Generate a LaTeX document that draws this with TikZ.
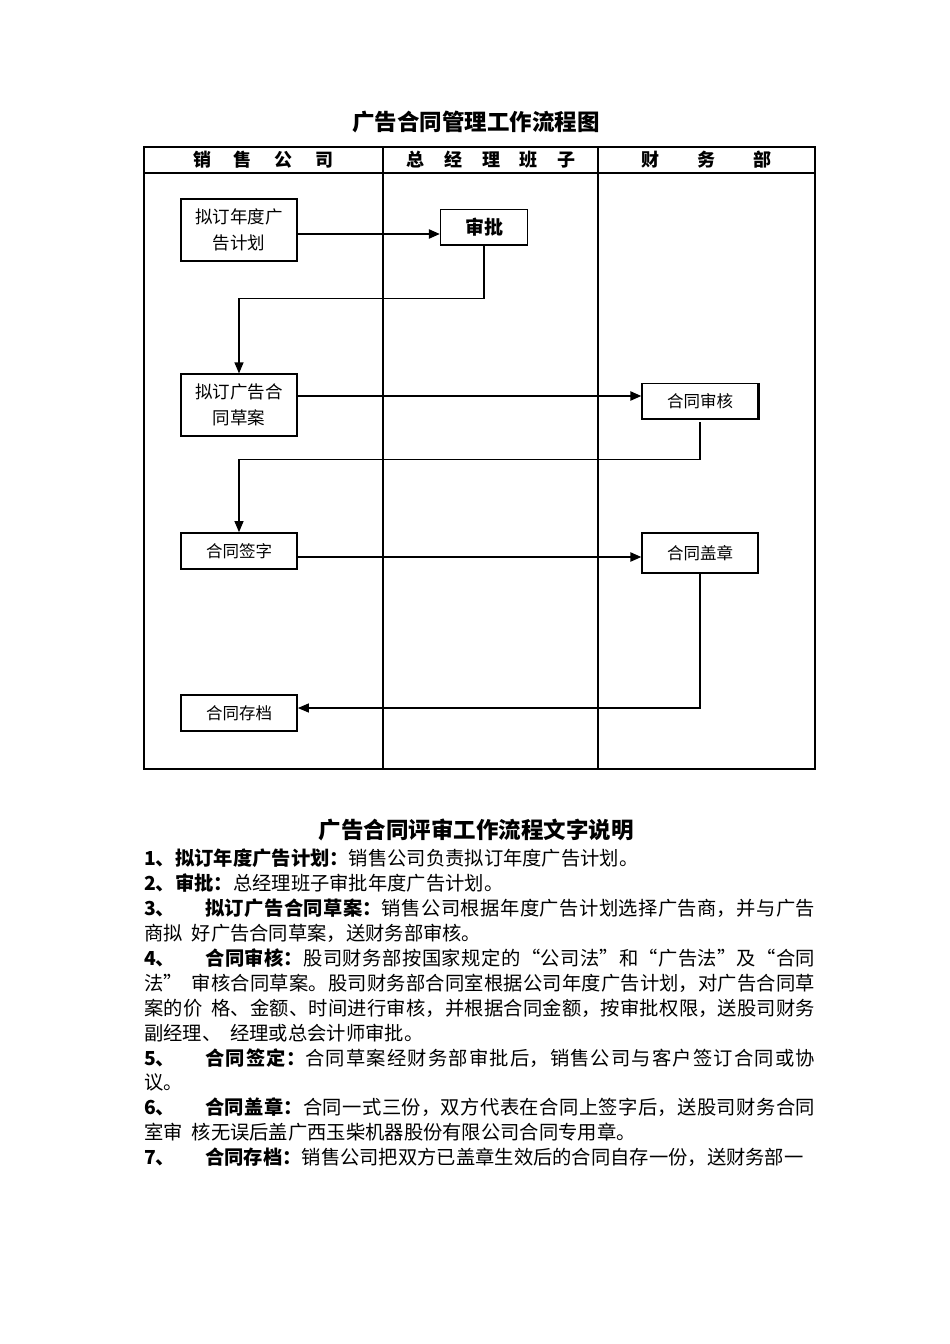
\documentclass[tikz,border=0pt]{standalone}
\usepackage{fontspec}
\newfontfamily\cjk{Noto Sans CJK SC}
\XeTeXlinebreaklocale "zh"
\XeTeXlinebreakskip=0pt plus 1pt
\usetikzlibrary{positioning,arrows.meta}
\tikzstyle{box} = [draw, line width=1.2pt, inner sep=0pt, align=center, font=\cjk\fontsize{17.5}{26}\selectfont]
\tikzstyle{flow} = [line width=2.2pt, -{Triangle[length=11pt,width=9pt]}]
\tikzstyle{back} = [line width=1.2pt]
\tikzstyle{head} = [font=\cjk\bfseries\fontsize{18}{20}\selectfont]
\newcommand{\sgap}{\hspace{9pt}}

\begin{document}
\begin{tikzpicture}[x=1pt, y=-1pt]
	\useasboundingbox[fill=white] (0,0) rectangle (950,1344);
	% title and lanes
	\node[font=\cjk\bfseries\fontsize{22.5}{27}\selectfont] (title) at (476,122) {广告合同管理工作流程图};
	\draw[line width=1.2pt] (144,147) rectangle (815,769);
	\draw[line width=1.2pt] (144,173) -- (815,173);
	\draw[line width=1.2pt] (383,147) -- (383,769);
	\draw[line width=1.2pt] (598,147) -- (598,769);
	\node[head] (sales) at (263.5,160) {销\hspace{23pt}售\hspace{23pt}公\hspace{23pt}司};
	\node[head] (board) at (491,160) {总\hspace{20pt}经\hspace{20pt}理\hspace{20pt}班\hspace{20pt}子};
	\node[head] (finance) at (706.5,160) {财\hspace{38.5pt}务\hspace{38.5pt}部};
	% steps
	\node[box, minimum width=116pt, minimum height=62pt] (plan) at (239,230) {拟订年度广\\告计划};
	\node[box, minimum width=87pt, minimum height=35pt, font=\cjk\bfseries\fontsize{19}{22}\selectfont] (approve) at (484,227) {审批};
	\node[box, minimum width=116pt, minimum height=62pt] (draft) at (239,405) {拟订广告合\\同草案};
	\node[box, minimum width=116pt, minimum height=35pt, font=\cjk\fontsize{16.5}{20}\selectfont] (review) at (700,401) {合同审核};
	\node[box, line width=1.7pt, minimum width=116pt, minimum height=36pt, font=\cjk\fontsize{16.5}{20}\selectfont] (sign) at (239,551) {合同签字};
	\node[box, minimum width=116pt, minimum height=40pt, font=\cjk\fontsize{16.5}{20}\selectfont] (seal) at (700,553) {合同盖章};
	\node[box, line width=1.7pt, minimum width=116pt, minimum height=36pt, font=\cjk\fontsize{16.5}{20}\selectfont] (archive) at (239,713) {合同存档};
	\draw[line width=2.4pt] (approve.south west) -- (approve.south east);
	\draw[line width=2.4pt] (review.north east) -- (review.south east) -- (review.south west);
	% connectors
	\draw[flow] ([yshift=-4pt]plan.east) -- ([yshift=-4pt]plan.east -| approve.west);
	\draw[back, -{Triangle[length=11pt,width=9pt]}] (approve.south) -- ++(0,53) -| (draft.north);
	\draw[flow] ([yshift=9pt]draft.east) -- ([yshift=9pt]draft.east -| review.west);
	\draw[back, -{Triangle[length=11pt,width=9pt]}] ([yshift=-3pt]review.south) -- ++(0,37) -| (sign.north);
	\draw[flow] ([yshift=-6pt]sign.east) -- ([yshift=-6pt]sign.east -| seal.west);
	\draw[back, -{Triangle[length=11pt,width=9pt]}] (seal.south) |- ([yshift=5pt]archive.east);
	% notes
	\node[font=\cjk\bfseries\fontsize{22.5}{27}\selectfont] (notes) at (476,830) {广告合同评审工作流程文字说明};
	\node[anchor=north west, inner sep=0pt, text width=671pt, align=justify, font=\cjk\fontsize{19.3}{24.9}\selectfont] (body) at (144,849) {%
		{\bfseries 1、拟订年度广告计划：}销售公司负责拟订年度广告计划。\\
		{\bfseries 2、审批：}总经理班子审批年度广告计划。\\
		{\bfseries 3、\hspace{30pt}拟订广告合同草案：}销售公司根据年度广告计划选择广告商，并与广告\linebreak
		商拟\sgap 好广告合同草案，送财务部审核。\\
		{\bfseries 4、\hspace{30pt}合同审核：}股司财务部按国家规定的“公司法”和“广告法”及“合同\linebreak
		法”\sgap 审核合同草案。股司财务部合同室根据公司年度广告计划，对广告合同草\linebreak
		案的价\sgap 格、金额、时间进行审核，并根据合同金额，按审批权限，送股司财务\linebreak
		副经理、\sgap 经理或总会计师审批。\\
		{\bfseries 5、\hspace{30pt}合同签定：}合同草案经财务部审批后，销售公司与客户签订合同或协\linebreak
		议。\\
		{\bfseries 6、\hspace{30pt}合同盖章：}合同一式三份，双方代表在合同上签字后，送股司财务合同\linebreak
		室审\sgap 核无误后盖广西玉柴机器股份有限公司合同专用章。\\
		{\bfseries 7、\hspace{30pt}合同存档：}销售公司把双方已盖章生效后的合同自存一份，送财务部一};
\end{tikzpicture}
\end{document}
